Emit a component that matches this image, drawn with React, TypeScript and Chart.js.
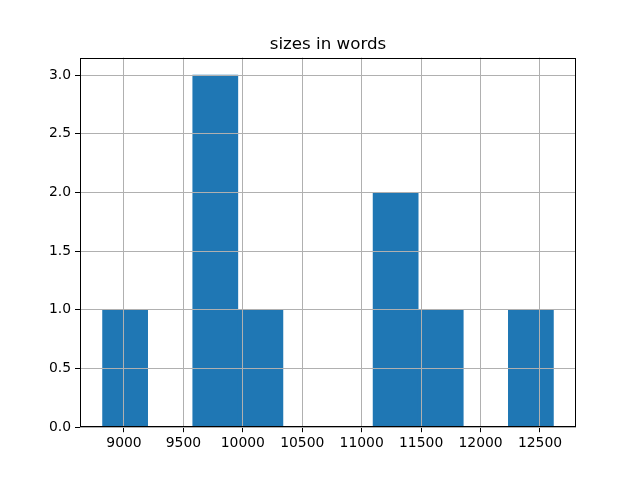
import React, { useEffect, useRef } from "react";
import { Chart, registerables } from "chart.js";

Chart.register(...registerables);

const chartTitle = "sizes in words";
const binCenters = [9009.6, 9389.0, 9768.3, 10147.6, 10526.9, 10906.2, 11285.5, 11664.8, 12044.1, 12423.4];
const counts = [1, 0, 3, 1, 0, 0, 2, 1, 0, 1];
const xTicks = [9000, 9500, 10000, 10500, 11000, 11500, 12000, 12500];
const yTicks = [0, 0.5, 1.0, 1.5, 2.0, 2.5, 3.0];
const xMin = 8630;
const xMax = 12803;
const yMax = 3.15;

const FONT = "DejaVu Sans";

const framePlugin = {
  id: "mplFrame",
  afterDraw(chart: any) {
    const { ctx, chartArea: a } = chart;
    ctx.save();
    ctx.strokeStyle = "#000";
    ctx.lineWidth = 1;
    const l = Math.round(a.left) + 0.5;
    const t = Math.round(a.top) + 0.5;
    const r = Math.round(a.right) - 0.5;
    const b = Math.round(a.bottom) - 0.5;
    ctx.strokeRect(l, t, r - l, b - t);
    ctx.fillStyle = "#000";
    ctx.font = `16.7px '${FONT}'`;
    ctx.textAlign = "center";
    ctx.textBaseline = "alphabetic";
    ctx.fillText(chartTitle, (a.left + a.right) / 2, a.top - 8.3);
    ctx.restore();
  },
};

export default function App() {
  const ref = useRef<HTMLCanvasElement | null>(null);

  useEffect(() => {
    if (!ref.current) return;
    const gridCommon = {
      color: "#b0b0b0",
      lineWidth: 1,
      tickColor: "#000",
      tickLength: 5,
      tickWidth: 1,
      drawOnChartArea: true,
      offset: false,
      z: 1,
    };
    const chart = new Chart(ref.current, {
      type: "bar",
      data: {
        datasets: [
          {
            data: binCenters.map((x, i) => ({ x, y: counts[i] })),
            backgroundColor: "#1f77b4",
            borderWidth: 0,
            barPercentage: 1,
            categoryPercentage: 1,
          },
        ],
      },
      options: {
        animation: false,
        responsive: false,
        layout: { padding: { top: 57.6, right: 64, left: 0, bottom: 0 } },
        plugins: {
          legend: { display: false },
          tooltip: { enabled: false },
          title: { display: false },
        },
        scales: {
          x: {
            type: "linear",
            min: xMin,
            max: xMax,
            offset: false,
            grid: gridCommon,
            border: { display: false },
            afterBuildTicks: (s: any) => {
              s.ticks = xTicks.map((v) => ({ value: v }));
            },
            afterFit: (s: any) => {
              s.height = 52.8;
            },
            ticks: {
              color: "#000",
              font: { family: FONT, size: 13.9 },
              padding: 3,
              maxRotation: 0,
              autoSkip: false,
              callback: (v: any) => String(v),
            },
          },
          y: {
            type: "linear",
            min: 0,
            max: yMax,
            grid: gridCommon,
            border: { display: false },
            afterBuildTicks: (s: any) => {
              s.ticks = yTicks.map((v) => ({ value: v }));
            },
            afterFit: (s: any) => {
              s.width = 80;
            },
            ticks: {
              color: "#000",
              font: { family: FONT, size: 13.9 },
              padding: 4,
              autoSkip: false,
              callback: (v: any) => Number(v).toFixed(1),
            },
          },
        },
      } as any,
      plugins: [framePlugin],
    });
    return () => chart.destroy();
  }, []);

  return (
    <div style={{ position: "absolute", left: 0, top: 0, width: 640, height: 480, background: "#fff" }}>
      <canvas ref={ref} width={640} height={480} />
    </div>
  );
}
